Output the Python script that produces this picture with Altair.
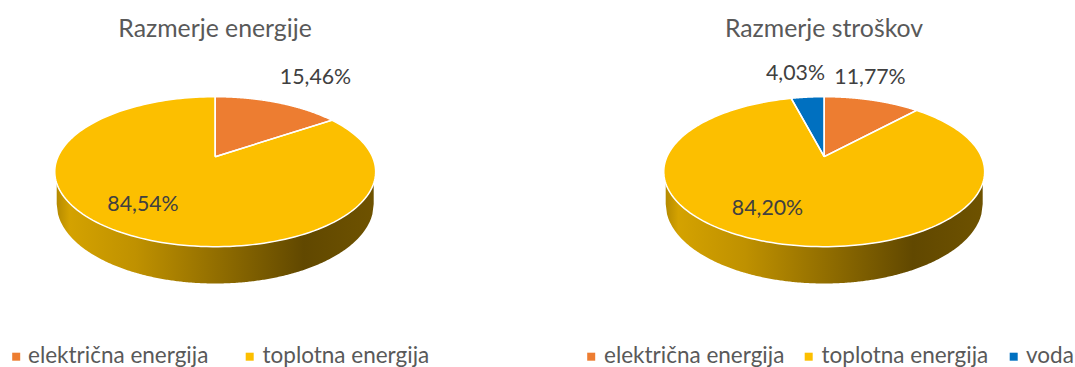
import numpy as np
import pandas as pd
import altair as alt

# Shares of each pie, clockwise from twelve o'clock; the heat share is the remainder of the disc.
energy_categories = ["električna energija", "toplotna energija"]
energy_shares = [15.46, 84.54]
cost_categories = ["električna energija", "toplotna energija", "voda"]
cost_shares = [11.77, 84.20, 4.03]

COLORS = {"električna energija": "#ED7D31", "toplotna energija": "#FCBF00", "voda": "#0070C0"}
FONT = "Lato"

# Perspective disc: apex position, half-width factor, vertical factor and foreshortening.
APEX_Y = 156.7
A, B, K = 157.2, 72.0, 0.2
RX = A / np.sqrt(1 - K**2)
RY = B / (1 - K**2)
CY = APEX_Y + B * K / (1 - K**2)
WALL_RX, WALL_CY, WALL_RY = 158.5, 204.0, 79.5


def rim(cx, theta_deg):
    t = np.radians(theta_deg)
    u, v = np.sin(t), np.cos(t)
    d = 1 + K * v
    return cx + A * u / d, APEX_Y - B * v / d


def wall_frame(cx):
    s = np.linspace(-1, 1, 241)
    dx = s * WALL_RX
    return pd.DataFrame({
        "x": cx + dx,
        "y": CY + RY * np.sqrt(1 - (dx / RX) ** 2),
        "y2": WALL_CY + WALL_RY * np.sqrt(np.clip(1 - s**2, 0, None)),
    })


def disc_frame(cx):
    s = np.sin(np.linspace(-np.pi / 2, np.pi / 2, 361))
    return pd.DataFrame({
        "x": cx + s * RX,
        "y": CY - RY * np.sqrt(1 - s**2),
        "y2": CY + RY * np.sqrt(1 - s**2),
    })


def wedge_frames(cx, cats, shares):
    """Filled sectors touching twelve o'clock plus the white outline of every slice."""
    fills, outlines = [], []
    start = 0.0
    for i, (cat, share) in enumerate(zip(cats, shares)):
        end = start + share * 3.6
        thetas = np.linspace(start, end, 181)
        xs, ys = rim(cx, thetas)
        outlines.append(pd.DataFrame({
            "x": np.r_[cx, xs, cx],
            "y": np.r_[APEX_Y, ys, APEX_Y],
            "order": np.arange(len(xs) + 2),
            "slice": f"{cx}-{i}",
        }))
        if share < 50:
            # The radius that does not lie on the vertical gives the lower edge of the sector.
            far = 0 if abs(xs[0] - cx) > abs(xs[-1] - cx) else -1
            slope = (ys[far] - APEX_Y) / (xs[far] - cx)
            f = pd.DataFrame({"x": xs, "y": ys, "y2": APEX_Y + slope * (xs - cx), "color": COLORS[cat]})
            fills.append(f.sort_values("x"))
        start = end
    return fills, pd.concat(outlines)


X_SCALE = alt.Scale(domain=[0, 1075], nice=False, zero=False)
Y_SCALE = alt.Scale(domain=[367, 0], nice=False, zero=False)
X = alt.X("x:Q", scale=X_SCALE, axis=None)
Y = alt.Y("y:Q", scale=Y_SCALE, axis=None)

wall_fill = alt.Gradient(
    gradient="linear", x1=0, x2=1, y1=0, y2=0,
    stops=[
        alt.GradientStop(offset=0.0, color="#b58a00"),
        alt.GradientStop(offset=0.04, color="#d4a200"),
        alt.GradientStop(offset=0.25, color="#bf9100"),
        alt.GradientStop(offset=0.78, color="#614800"),
        alt.GradientStop(offset=1.0, color="#6e5200"),
    ],
)

layers = []
for cx, cats, shares in [(215.2, energy_categories, energy_shares), (824.2, cost_categories, cost_shares)]:
    layers.append(alt.Chart(wall_frame(cx)).mark_area(color=wall_fill).encode(x=X, y=Y, y2="y2:Q"))
    layers.append(alt.Chart(disc_frame(cx)).mark_area(color=COLORS["toplotna energija"]).encode(x=X, y=Y, y2="y2:Q"))
    fills, outline = wedge_frames(cx, cats, shares)
    for f in fills:
        layers.append(alt.Chart(f).mark_area(color=f["color"].iloc[0]).encode(x=X, y=Y, y2="y2:Q"))
    layers.append(
        alt.Chart(outline).mark_line(color="white", strokeWidth=1.5).encode(
            x=X, y=Y, order="order:Q", detail="slice:N")
    )


def pct(v):
    return f"{v:.2f}%".replace(".", ",")


titles = pd.DataFrame({"x": [215.0, 824.0], "y": [30.0, 30.0], "t": ["Razmerje energije", "Razmerje stroškov"]})
labels = pd.DataFrame({
    "x": [315.5, 143.0, 870.0, 767.5, 795.5],
    "y": [78.0, 205.0, 78.0, 209.0, 74.0],
    "t": [pct(energy_shares[0]), pct(energy_shares[1]), pct(cost_shares[0]), pct(cost_shares[1]), pct(cost_shares[2])],
})
legend_x = pd.DataFrame({
    "x": [16.2, 249.7, 591.2, 808.7, 1013.7],
    "tx": [28.0, 262.5, 604.0, 821.5, 1026.0],
    "y": [356.7] * 5,
    "t": energy_categories + cost_categories,
})

layers.append(alt.Chart(titles).mark_text(font=FONT, fontSize=24.8, color="#595959").encode(x=X, y=Y, text="t:N"))
layers.append(alt.Chart(labels).mark_text(font=FONT, fontSize=21.3, color="#404040").encode(x=X, y=Y, text="t:N"))
layers.append(
    alt.Chart(legend_x).mark_square(size=64, opacity=1).encode(
        x=X, y=Y,
        color=alt.Color("t:N", scale=alt.Scale(domain=list(COLORS), range=list(COLORS.values())), legend=None))
)
layers.append(
    alt.Chart(legend_x).mark_text(font=FONT, fontSize=22.5, color="#595959", align="left", dy=-1).encode(
        x=alt.X("tx:Q", scale=X_SCALE, axis=None), y=Y, text="t:N")
)

chart = (
    alt.layer(*layers)
    .properties(width=1075, height=367, padding=0, autosize=alt.AutoSizeParams(type="none"), background="white")
    .configure_view(stroke=None)
)
chart.save("out.html", embed_options={"renderer": "svg", "actions": False})
